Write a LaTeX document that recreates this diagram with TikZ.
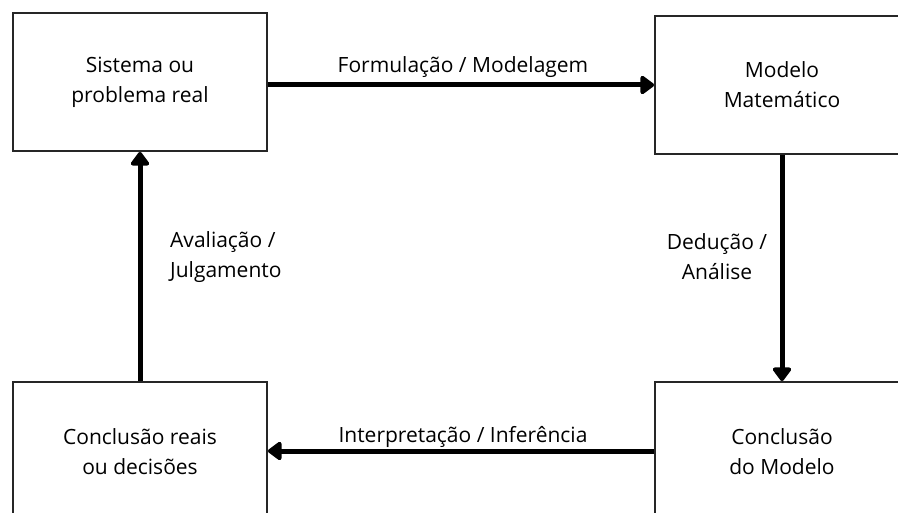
\documentclass[tikz,border=0pt]{standalone}
\usepackage{fontspec}
\setmainfont{Open Sans}
\usetikzlibrary{arrows.meta}
\begin{document}
\begin{tikzpicture}[x=1pt,y=-1pt,
  box/.style={draw=black!85,line width=1.8pt,minimum width=254pt,align=center,font=\fontsize{21}{30}\selectfont,inner sep=0pt},
  conn/.style={line width=5pt,-{Triangle[length=15pt,width=21pt,round]}},
  lbl/.style={font=\fontsize{21}{30}\selectfont,align=center,inner sep=0pt}]
\useasboundingbox (0,0) rectangle (898,513);
\node[box,minimum height=138pt] (sis) at (140,82) {Sistema ou\\problema real};
\node[box,minimum height=138pt] (mod) at (782,85) {Modelo\\Matemático};
\node[box,minimum height=140pt] (cr) at (140,452) {Conclusão reais\\ou decisões};
\node[box,minimum height=140pt] (cm) at (782,452) {Conclusão\\do Modelo};
\node[lbl] (l1) at (463,67) {Formulação / Modelagem};
\node[lbl] (l2) at (717,257) {Dedução /\\Análise};
\node[lbl,align=left,anchor=west] (l3) at (170,257) {Avaliação /\\Julgamento};
\node[lbl] (l4) at (463,437) {Interpretação / Inferência};
\draw[conn] (sis.east |- 0,85) -- (mod.west |- 0,85);
\draw[conn] (mod.south) -- (cm.north);
\draw[conn] (cm.west |- 0,451) -- (cr.east |- 0,451);
\draw[conn] (cr.north) -- (sis.south);
\end{tikzpicture}
\end{document}
